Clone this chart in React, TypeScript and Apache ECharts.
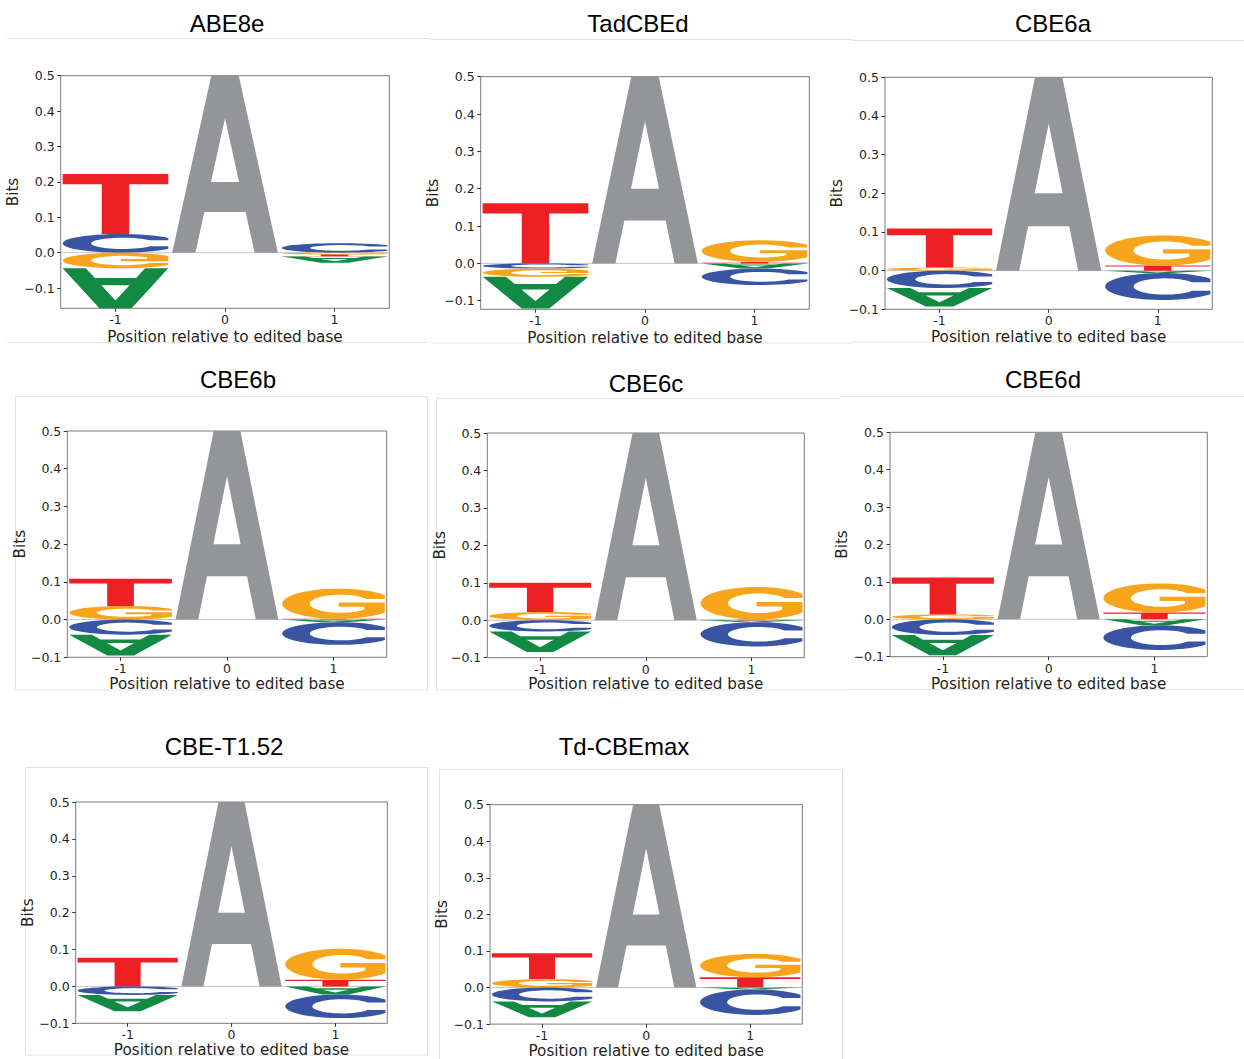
import React, { useEffect, useRef } from 'react';
import * as echarts from 'echarts';

// ---------- data ----------
const POSITIONS = [-1, 0, 1];
const LETTERS = ['A', 'C', 'G', 'T'];
const Y_TICKS = [-0.1, 0, 0.1, 0.2, 0.3, 0.4, 0.5];

// information (bits) per letter at positions -1, 0, 1 ; negative = depleted (drawn flipped)
const ABE8e = { A: [-0.12, 0.5, -0.017], C: [0.053, 0, 0.027], G: [-0.044, 0, -0.005], T: [0.169, 0, -0.006] };
const TadCBEd = { A: [-0.085, 0.5, -0.014], C: [-0.014, 0, -0.044], G: [-0.022, 0, 0.058], T: [0.161, 0, 0.004] };
const CBE6a = { A: [-0.048, 0.5, -0.006], C: [-0.045, 0, -0.07], G: [0.008, 0, 0.078], T: [0.101, 0, 0.013] };
const CBE6b = { A: [-0.055, 0.5, -0.007], C: [-0.04, 0, -0.06], G: [0.036, 0, 0.08], T: [0.072, 0, 0.002] };
const CBE6c = { A: [-0.055, 0.5, -0.005], C: [-0.03, 0, -0.065], G: [0.022, 0, 0.087], T: [0.078, 0, 0.002] };
const CBE6d = { A: [-0.054, 0.5, -0.016], C: [-0.042, 0, -0.066], G: [0.013, 0, 0.078], T: [0.099, 0, 0.018] };
const CBE_T152 = { A: [-0.044, 0.5, -0.022], C: [-0.023, 0, -0.064], G: [0, 0, 0.084], T: [0.078, 0, 0.018] };
const TdCBEmax = { A: [-0.043, 0.5, -0.005], C: [-0.038, 0, -0.07], G: [0.023, 0, 0.064], T: [0.071, 0, 0.028] };

const TITLES = ['ABE8e', 'TadCBEd', 'CBE6a', 'CBE6b', 'CBE6c', 'CBE6d', 'CBE-T1.52', 'Td-CBEmax'];
const DATASETS = [ABE8e, TadCBEd, CBE6a, CBE6b, CBE6c, CBE6d, CBE_T152, TdCBEmax];
const Y_MINS = [-0.157, -0.123, -0.1, -0.1, -0.1, -0.1, -0.1, -0.1];

// ---------- layout ----------
const GRIDS = [
  { left: 60.7, top: 75.7, width: 328.6, height: 232.6 },
  { left: 480.7, top: 76.7, width: 328.6, height: 232.6 },
  { left: 885, top: 77.3, width: 327.3, height: 232 },
  { left: 67.3, top: 431, width: 319.4, height: 226.3 },
  { left: 487.3, top: 433, width: 317, height: 224.7 },
  { left: 890, top: 432.3, width: 317.3, height: 224.4 },
  { left: 75.7, top: 802, width: 311.6, height: 221.3 },
  { left: 490, top: 804.7, width: 312.3, height: 221 },
];
const TITLE_POS = [
  [227, 24], [638, 24], [1053, 24],
  [238, 380], [646, 384], [1043, 380],
  [224, 747], [624, 747],
];
const XNAME_GAP = [21.5, 21, 20.5, 19.5, 19, 20, 18.5, 18.5];

const COLORS: Record<string, string> = { A: '#128a43', C: '#3a54a4', G: '#f8a51b', T: '#ed2024' };
const CENTER_COLOR = '#939598';
const TEXT = '#231f20';
const LETTER_W = 0.965;

// ---------- glyph outlines in a 100x100 box (y down) ----------
function arc(cx: number, cy: number, rx: number, ry: number, a0: number, a1: number, n = 40) {
  const pts: number[][] = [];
  for (let i = 0; i <= n; i++) {
    const a = ((a0 + ((a1 - a0) * i) / n) * Math.PI) / 180;
    pts.push([cx + rx * Math.cos(a), cy - ry * Math.sin(a)]);
  }
  return pts;
}
const GLYPHS: Record<string, number[][][]> = {
  A: [
    [[0, 100], [37, 0], [63, 0], [100, 100], [78, 100], [69.5, 77], [30.5, 77], [22, 100]],
    [[36.7, 60], [63.3, 60], [50, 24]],
  ],
  T: [[[0, 0], [100, 0], [100, 17], [63, 17], [63, 100], [37, 100], [37, 17], [0, 17]]],
  C: [[...arc(55, 50, 55, 50, 35.1, 324.9), [100, 66], ...arc(57, 50, 30, 30, 327.8, 32.2), [100, 34]]],
  G: [[...arc(55, 50, 55, 50, 35.1, 324.9), [100, 46], [55, 46], [55, 60], [80, 60], ...arc(57, 50, 30, 30, 320, 32.2), [100, 34]]],
};

// stacked boxes: [pos, bottom, top, letterIndex, flipped]
function buildItems(ds: Record<string, number[]>) {
  const items: number[][] = [];
  POSITIONS.forEach((pos, pi) => {
    const vals = LETTERS.map((l, li) => ({ li, v: ds[l][pi] })).filter((d) => d.v !== 0);
    const pos_ = vals.filter((d) => d.v > 0).sort((a, b) => a.v - b.v);
    const neg = vals.filter((d) => d.v < 0).sort((a, b) => b.v - a.v);
    let acc = 0;
    pos_.forEach((d) => { items.push([pos, acc, acc + d.v, d.li, 0]); acc += d.v; });
    acc = 0;
    neg.forEach((d) => { items.push([pos, acc + d.v, acc, d.li, 1]); acc += d.v; });
  });
  return items;
}

function renderLetter(params: any, api: any) {
  const pos = api.value(0);
  const y0 = api.value(1);
  const y1 = api.value(2);
  const letter = LETTERS[api.value(3)];
  const flip = api.value(4) === 1;
  const tl = api.coord([pos - LETTER_W / 2, y1]);
  const br = api.coord([pos + LETTER_W / 2, y0]);
  const w = br[0] - tl[0];
  const h = br[1] - tl[1];
  let d = '';
  GLYPHS[letter].forEach((poly) => {
    poly.forEach((p, i) => {
      const v = flip ? 100 - p[1] : p[1];
      const x = tl[0] + (p[0] / 100) * w;
      const y = tl[1] + (v / 100) * h;
      d += (i === 0 ? 'M' : 'L') + x.toFixed(2) + ' ' + y.toFixed(2) + ' ';
    });
    d += 'Z ';
  });
  return {
    type: 'path',
    shape: { pathData: d },
    style: { fill: pos === 0 ? CENTER_COLOR : COLORS[letter], stroke: null },
  };
}

function buildOption() {
  const grid: any[] = [];
  const xAxis: any[] = [];
  const yAxis: any[] = [];
  const series: any[] = [];
  const title: any[] = [];
  DATASETS.forEach((ds, i) => {
    const g = GRIDS[i];
    grid.push({
      left: g.left, top: g.top, width: g.width, height: g.height,
      show: true, borderColor: '#7a7a7a', borderWidth: 1, backgroundColor: 'transparent',
    });
    xAxis.push({
      type: 'value', gridIndex: i, min: -1.5, max: 1.5,
      splitLine: { show: false },
      axisLine: { show: false, onZero: false },
      axisTick: { show: true, customValues: POSITIONS, length: 3.5, lineStyle: { color: '#333' } },
      axisLabel: {
        customValues: POSITIONS, formatter: (v: number) => String(v), margin: 5,
        fontSize: 12.5, fontFamily: 'DejaVu Sans', color: TEXT,
      },
      name: 'Position relative to edited base', nameLocation: 'middle', nameGap: XNAME_GAP[i],
      nameTextStyle: { fontSize: 15.2, fontFamily: 'DejaVu Sans', color: TEXT },
    });
    yAxis.push({
      type: 'value', gridIndex: i, min: Y_MINS[i], max: 0.5,
      splitLine: { show: false },
      axisLine: { show: false, onZero: false },
      axisTick: { show: true, customValues: Y_TICKS, length: 3.5, lineStyle: { color: '#333' } },
      axisLabel: {
        customValues: Y_TICKS, margin: 6,
        formatter: (v: number) => (v < -1e-9 ? '\u2212' + Math.abs(v).toFixed(1) : Math.abs(v).toFixed(1)),
        fontSize: 12.5, fontFamily: 'DejaVu Sans', color: TEXT,
      },
      name: 'Bits', nameLocation: 'middle', nameRotate: 90, nameGap: 32,
      nameTextStyle: { fontSize: 15.2, fontFamily: 'DejaVu Sans', color: TEXT },
    });
    series.push({
      type: 'line', xAxisIndex: i, yAxisIndex: i, data: [[-1.5, 0], [1.5, 0]],
      showSymbol: false, silent: true, z: 2, lineStyle: { color: '#c4c4c4', width: 1 },
    });
    series.push({
      type: 'custom', xAxisIndex: i, yAxisIndex: i, clip: true, z: 3, silent: true,
      data: buildItems(ds), encode: { x: [0], y: [1, 2] }, renderItem: renderLetter,
    });
    title.push({
      text: TITLES[i], left: TITLE_POS[i][0], top: TITLE_POS[i][1] - 13, textAlign: 'center', padding: 0,
      textStyle: { fontFamily: 'Liberation Sans', fontSize: 24, fontWeight: 'normal', color: '#000' },
    });
  });

  const lineStyle = { stroke: '#e2e2e2', lineWidth: 1 };
  const seg = (x1: number, y1: number, x2: number, y2: number) => ({
    type: 'line', shape: { x1, y1, x2, y2 }, style: lineStyle, silent: true,
  });
  const graphic = [
    seg(7, 38.5, 430, 38.5), seg(7, 342.5, 428, 342.5),
    seg(431, 39.5, 853, 39.5), seg(431, 343, 853, 343),
    seg(852, 40.5, 1244, 40.5), seg(852, 342, 1244, 342),
    { type: 'rect', shape: { x: 15.5, y: 396.5, width: 412, height: 293.5 }, style: { fill: 'none', ...lineStyle }, silent: true },
    seg(436.5, 398.5, 840, 398.5), seg(436.5, 398.5, 436.5, 690), seg(436.5, 690, 845, 690),
    seg(840, 396.5, 1244, 396.5), seg(845, 689.5, 1244, 689.5),
    { type: 'rect', shape: { x: 25.5, y: 767.5, width: 402, height: 287.5 }, style: { fill: 'none', ...lineStyle }, silent: true },
    seg(439.5, 769.5, 842.5, 769.5), seg(439.5, 769.5, 439.5, 1059), seg(842.5, 769.5, 842.5, 1059),
  ];

  return { animation: false, backgroundColor: '#fff', title, grid, xAxis, yAxis, series, graphic };
}

export default function App() {
  const ref = useRef<HTMLDivElement>(null);
  useEffect(() => {
    const chart = echarts.init(ref.current!, null, { renderer: 'svg' });
    chart.setOption(buildOption() as any);
    return () => chart.dispose();
  }, []);
  return (
    <div
      ref={ref}
      style={{ position: 'absolute', left: 0, top: 0, width: 1244, height: 1059, background: '#fff' }}
    />
  );
}
